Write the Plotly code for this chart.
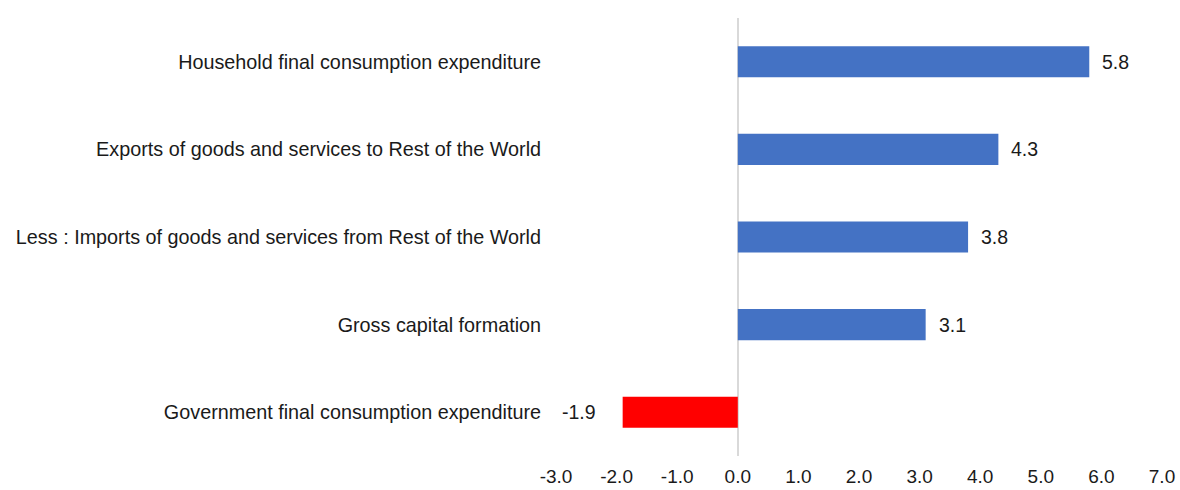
import plotly.graph_objects as go

categories = [
    "Household final consumption expenditure",
    "Exports of goods and services to Rest of the World",
    "Less : Imports of goods and services from Rest of the World",
    "Gross capital formation",
    "Government final consumption expenditure",
]
values = [5.8, 4.3, 3.8, 3.1, -1.9]
tick_vals = [-3, -2, -1, 0, 1, 2, 3, 4, 5, 6, 7]

colors = ["#4472C4" if v >= 0 else "#FF0000" for v in values]
FONT = "Liberation Sans, Arial"
TXT = "#1a1a1a"

fig = go.Figure()
fig.add_trace(go.Bar(
    y=categories, x=values, orientation="h",
    marker=dict(color=colors, line=dict(width=0)),
    width=0.355,
    hoverinfo="x+y",
))

for c, v in zip(categories, values):
    fig.add_annotation(
        x=v, y=c, text=f"{v:.1f}", showarrow=False,
        xanchor="left" if v >= 0 else "right",
        xshift=11 if v >= 0 else -25,
        font=dict(family=FONT, size=19.5, color=TXT),
    )

fig.update_layout(
    width=1180, height=490,
    margin=dict(l=556, r=18, t=18, b=34),
    paper_bgcolor="white", plot_bgcolor="white",
    showlegend=False,
    font=dict(family=FONT, size=19.5, color=TXT),
    xaxis=dict(
        range=[-3, 7], tickvals=tick_vals,
        ticktext=[f"{t:.1f}" for t in tick_vals],
        automargin=False,
        showgrid=False, zeroline=True, zerolinecolor="#d9d9d9", zerolinewidth=1.5,
        showline=False, ticks="outside", ticklen=3, tickcolor="rgba(0,0,0,0)",
        tickfont=dict(size=19, color=TXT),
    ),
    yaxis=dict(
        autorange="reversed", showgrid=False, showline=False,
        automargin=False,
        ticks="outside", ticklen=10, tickcolor="rgba(0,0,0,0)",
        tickfont=dict(size=19.8, color=TXT),
    ),
)

fig.write_html(
    "out.html",
    config={"displayModeBar": False},
    post_script="document.body.style.margin='0';document.body.style.overflow='hidden';",
)
